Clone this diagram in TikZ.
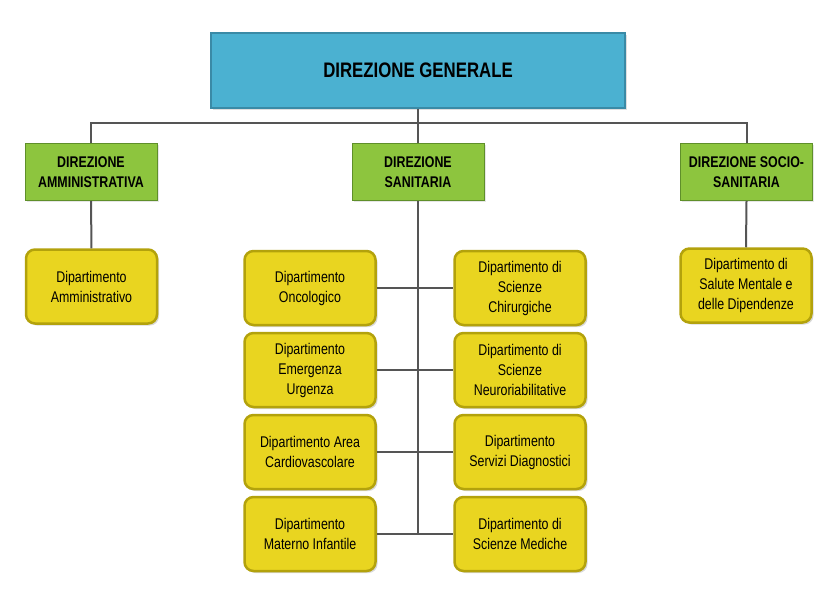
\documentclass[tikz,border=0pt]{standalone}
\usepackage{fontspec}
\setmainfont[FakeStretch=0.8]{Liberation Sans}
\usepackage{xcolor}
\usepackage{tikz}
\usetikzlibrary{positioning, shadows}
\definecolor{genblue}{HTML}{4BB1D1}
\definecolor{genedge}{HTML}{3A8AA6}
\definecolor{dirgreen}{HTML}{8DC53E}
\definecolor{diredge}{HTML}{5F8F2A}
\definecolor{depyellow}{HTML}{E9D520}
\definecolor{depedge}{HTML}{B3A20C}
\definecolor{linegray}{HTML}{555555}

\begin{document}
\begin{tikzpicture}[
    x=1pt, y=-1pt,
    every node/.style={align=center},
    genbox/.style={
        rectangle,
        draw=genedge,
        fill=genblue,
        line width=1.2pt,
        minimum width=414pt,
        minimum height=75pt,
        drop shadow={opacity=0.25, shadow xshift=2pt, shadow yshift=-2pt},
        font=\fontsize{21}{24}\selectfont\bfseries
    },
    dirbox/.style={
        rectangle,
        draw=diredge,
        fill=dirgreen,
        line width=1pt,
        minimum width=132pt,
        minimum height=57pt,
        drop shadow={opacity=0.2, shadow xshift=1.5pt, shadow yshift=-1.5pt},
        font=\fontsize{15.5}{20}\selectfont\bfseries
    },
    depbox/.style={
        rectangle,
        rounded corners=9pt,
        draw=depedge,
        fill=depyellow,
        line width=2.5pt,
        minimum width=131pt,
        minimum height=74pt,
        drop shadow={opacity=0.3, shadow xshift=2pt, shadow yshift=-2pt},
        font=\fontsize{15.5}{20}\selectfont
    },
    link/.style={
        line width=2pt,
        draw=linegray
    }
]
\useasboundingbox (0,0) rectangle (838,592);

% Nodes - top
\node[genbox] (gen) at (418,70.5) {DIREZIONE GENERALE};

% Nodes - directions
\node[dirbox] (amm) at (91,172) {DIREZIONE\\AMMINISTRATIVA};
\node[dirbox] (san) at (418,172) {DIREZIONE\\SANITARIA};
\node[dirbox] (soc) at (746.5,172) {DIREZIONE SOCIO-\\SANITARIA};

% Nodes - side departments
\node[depbox] (damm) at (91.5,286.5) {Dipartimento\\Amministrativo};
\node[depbox] (dsal) at (746,285.5) {Dipartimento di\\Salute Mentale e\\delle Dipendenze};

% Nodes - sanitary departments, left column
\node[depbox] (onc) at (310,288) {Dipartimento\\Oncologico};
\node[depbox, below=5.5pt of onc] (emu) {Dipartimento\\Emergenza\\Urgenza};
\node[depbox, below=5.5pt of emu] (car) {Dipartimento Area\\Cardiovascolare};
\node[depbox, below=5.5pt of car] (mat) {Dipartimento\\Materno Infantile};

% Nodes - sanitary departments, right column
\node[depbox] (chi) at (520,288) {Dipartimento di\\Scienze\\Chirurgiche};
\node[depbox, below=5.5pt of chi] (neu) {Dipartimento di\\Scienze\\Neuroriabilitative};
\node[depbox, below=5.5pt of neu] (dia) {Dipartimento\\Servizi Diagnostici};
\node[depbox, below=5.5pt of dia] (med) {Dipartimento di\\Scienze Mediche};

% Connectors - top level
\coordinate (bar) at (418,123);
\draw[link] (gen.south) -- (san.north);
\draw[link] (amm.north) |- (bar) -| (soc.north);

% Connectors - side branches
\draw[link] (amm.south) -- (damm.north);
\draw[link] (soc.south) -- (dsal.north);

% Connectors - sanitary trunk
\coordinate (trunkend) at (san.south |- mat.east);
\draw[link] (san.south) -- (trunkend);
\draw[link] (onc.east) -- (chi.west);
\draw[link] (emu.east) -- (neu.west);
\draw[link] (car.east) -- (dia.west);
\draw[link] (mat.east) -- (med.west);

\end{tikzpicture}
\end{document}
